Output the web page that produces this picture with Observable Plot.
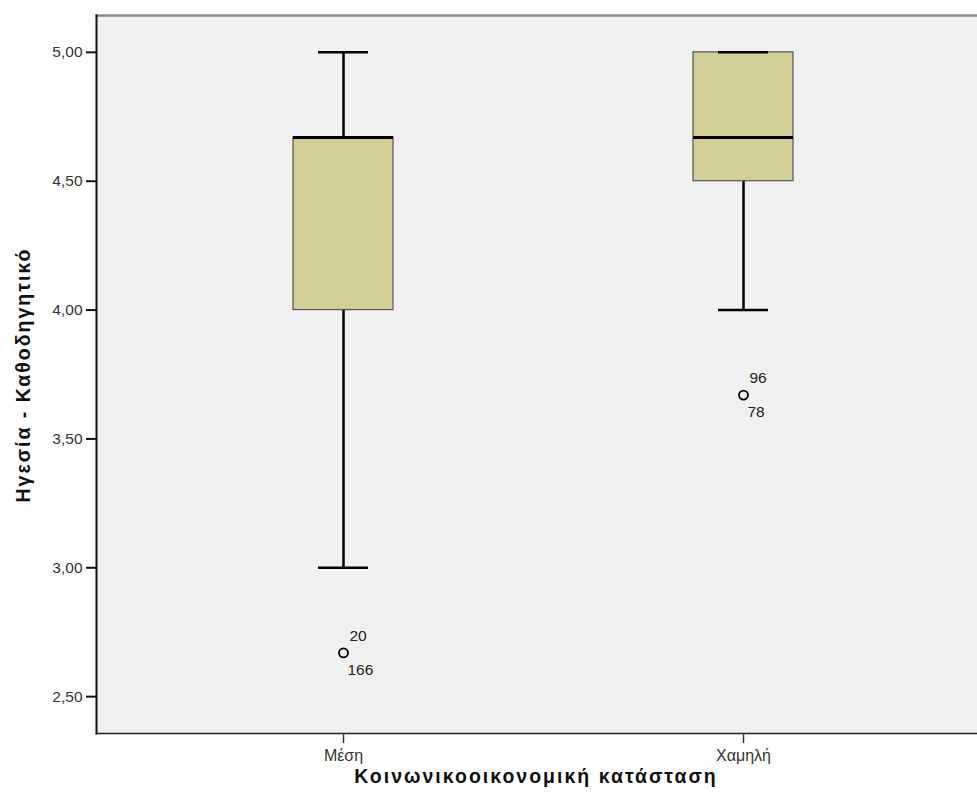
<!DOCTYPE html>
<html>
<head>
<meta charset="utf-8">
<script src="https://cdn.jsdelivr.net/npm/d3@7"></script>
<script src="https://cdn.jsdelivr.net/npm/@observablehq/plot@0.6"></script>
<style>
  html, body { margin: 0; padding: 0; background: #fff; }
  #chart svg { display: block; }
</style>
</head>
<body>
<div id="chart"></div>
<script>
const groups = ["Μέση", "Χαμηλή"];
const whiskerLow = [3.00, 4.00];
const q1 = [4.00, 4.50];
const median = [4.67, 4.67];
const q3 = [4.67, 5.00];
const whiskerHigh = [5.00, 5.00];
const outlierValues = [2.67, 3.67];
const outlierLabelAbove = ["20", "96"];
const outlierLabelBelow = ["166", "78"];
const yTicks = [2.5, 3.0, 3.5, 4.0, 4.5, 5.0];
const xTitle = "Κοινωνικοοικονομική κατάσταση";
const yTitle = "Ηγεσία - Καθοδηγητικό";

const boxes = groups.map((g, i) => ({
  g, lo: whiskerLow[i], q1: q1[i], med: median[i], q3: q3[i], hi: whiskerHigh[i],
  out: outlierValues[i], la: outlierLabelAbove[i], lb: outlierLabelBelow[i]
}));

const fmt = d => d3.format(".2f")(d).replace(".", ",");
const font = "'Liberation Sans', Arial, sans-serif";

const W = 977, H = 808;
const mL = 96, mT = 15, mB = 75;

const chart = Plot.plot({
  width: W,
  height: H,
  marginLeft: mL,
  marginRight: 0,
  marginTop: mT,
  marginBottom: mB,
  style: { fontFamily: font, fontSize: "15px", background: "#fff", overflow: "hidden" },
  x: { type: "band", domain: groups, range: [96, 990], paddingInner: 0.75, paddingOuter: 0.49, label: null },
  y: { domain: [2.357, 5.143], label: null },
  marks: [
    Plot.frame({ fill: "#F0F0F0", stroke: null }),
    Plot.ruleX(boxes, { x: "g", y1: "lo", y2: "hi", stroke: "#000", strokeWidth: 2.5 }),
    Plot.barY(boxes, { x: "g", y1: "q1", y2: "q3", fill: "#D3CE97", stroke: "#555", strokeWidth: 1.2 }),
    Plot.tickY(boxes, { x: "g", y: "lo", stroke: "#000", strokeWidth: 2.5, insetLeft: 25, insetRight: 25 }),
    Plot.tickY(boxes, { x: "g", y: "hi", stroke: "#000", strokeWidth: 2.5, insetLeft: 25, insetRight: 25 }),
    Plot.tickY(boxes, { x: "g", y: "med", stroke: "#000", strokeWidth: 3 }),
    Plot.dot(boxes, { x: "g", y: "out", r: 4.5, stroke: "#000", strokeWidth: 1.8, fill: "none" }),
    Plot.text(boxes, { x: "g", y: "out", text: "la", dx: 6, dy: -17, textAnchor: "start", fontSize: 15.5, fill: "#222" }),
    Plot.text(boxes, { x: "g", y: "out", text: "lb", dx: 4, dy: 17, textAnchor: "start", fontSize: 15.5, fill: "#222" }),
    Plot.frame({ anchor: "top", stroke: "#8a8a8a", strokeWidth: 2.5 }),
    Plot.frame({ anchor: "left", stroke: "#111", strokeWidth: 2 }),
    Plot.frame({ anchor: "bottom", stroke: "#222", strokeWidth: 1.5 }),
    Plot.axisY({ ticks: yTicks, tickFormat: fmt, tickSize: 10, tickPadding: 4, fontSize: 15.5, stroke: "#111", strokeWidth: 2, color: "#333", label: null }),
    Plot.axisX({ tickSize: 10, tickPadding: 6, fontSize: 16, stroke: "#333", strokeWidth: 1.5, color: "#333", label: null })
  ]
});

const svg = d3.select(chart);
svg.selectAll('g[aria-label="y-axis tick label"]').attr("font-size", 15.5);
svg.selectAll('g[aria-label="x-axis tick label"]').attr("font-size", 16);
svg.append("text")
  .attr("x", 536).attr("y", 783)
  .attr("text-anchor", "middle")
  .attr("font-family", font)
  .attr("font-weight", "bold")
  .attr("font-size", 19.5)
  .attr("letter-spacing", "2px")
  .attr("fill", "#111")
  .text(xTitle);
svg.append("text")
  .attr("transform", "translate(30,375) rotate(-90)")
  .attr("text-anchor", "middle")
  .attr("font-family", font)
  .attr("font-weight", "bold")
  .attr("font-size", 19.5)
  .attr("letter-spacing", "2px")
  .attr("fill", "#111")
  .text(yTitle);

document.getElementById("chart").appendChild(chart);
</script>
</body>
</html>
